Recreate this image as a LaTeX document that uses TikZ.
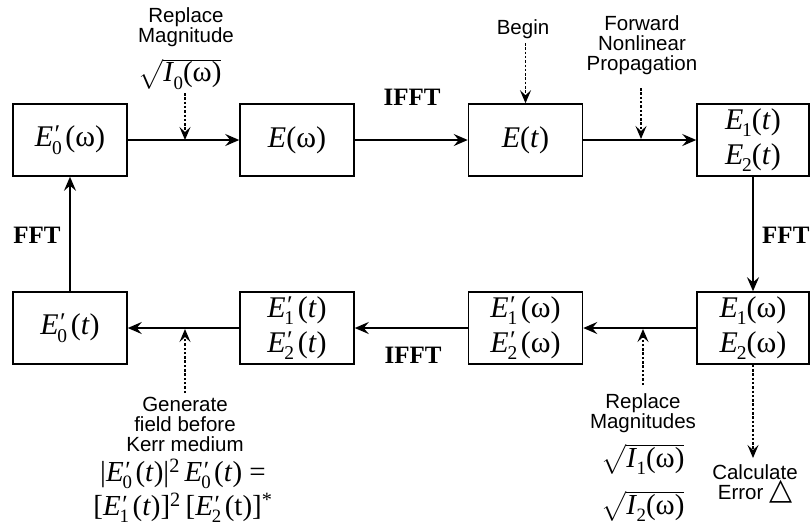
\documentclass[tikz,border=0pt]{standalone}
\usepackage{exscale}
\usepackage{fontspec}
\setmainfont{Liberation Serif}
\newfontfamily\lsans{Liberation Sans}
\newfontfamily\dejavu{DejaVu Sans}
\usetikzlibrary{arrows.meta}
\newcommand{\Ei}[1]{\textit{E}\kern-0.04em\raisebox{-0.25em}{\scalebox{0.65}{#1}}}
\newcommand{\Ii}[1]{\textit{I}\kern-0.02em\raisebox{-0.25em}{\scalebox{0.65}{#1}}}
\newcommand{\Ep}[1]{\textit{E}\makebox[0pt][l]{\kern0.0em\raisebox{0.12em}{\scalebox{0.85}{\textit{′}}}}\kern-0.04em\raisebox{-0.25em}{\scalebox{0.65}{#1}}\kern0.12em}
\tikzset{
  box/.style={draw, line width=1.5pt, minimum width=114pt, minimum height=72pt, inner sep=0pt, align=center, font=\fontsize{30}{35}\selectfont},
  arr/.style={line width=1.8pt, -{Stealth[length=14pt,width=12pt,inset=5pt]}},
  darr/.style={line width=1.4pt, dash pattern=on 2.5pt off 1.8pt, -{Stealth[length=13pt,width=11pt,inset=5pt]}},
  lbl/.style={inner sep=0pt, align=center, font=\lsans\fontsize{20.5}{20}\selectfont},
  fft/.style={inner sep=0pt, font=\bfseries\fontsize{25}{28}\selectfont},
  mth/.style={inner sep=0pt, align=center, font=\fontsize{29}{34}\selectfont}
}
\begin{document}
\begin{tikzpicture}[x=1pt,y=-1pt]
\useasboundingbox (0,0) rectangle (810,531);
% boxes
\node[box] (b1) at (70,140) {\Ep{0}(ω)};
\node[box] (b2) at (297,140) {\textit{E}(ω)};
\node[box] (b3) at (525.5,140) {\textit{E}(\textit{t})};
\node[box, minimum width=112pt] (b4) at (753,140) {\Ei{1}(\textit{t})\\\Ei{2}(\textit{t})};
\node[box] (c1) at (70,328) {\Ep{0}(\textit{t})};
\node[box] (c2) at (297,328) {\Ep{1}(\textit{t})\\\Ep{2}(\textit{t})};
\node[box] (c3) at (525.5,328) {\Ep{1}(ω)\\\Ep{2}(ω)};
\node[box, minimum width=112pt] (c4) at (753,328) {\Ei{1}(ω)\\\Ei{2}(ω)};
% main connectors
\draw[arr] (b1) -- (b2);
\draw[arr] (b2) -- (b3);
\draw[arr] (b3) -- (b4);
\draw[arr] (b4) -- (c4);
\draw[arr] (c4) -- (c3);
\draw[arr] (c3) -- (c2);
\draw[arr] (c2) -- (c1);
\draw[arr] (c1) -- (b1);
% transform labels
\node[fft] (ifft1) at (412,97) {IFFT};
\node[fft] (ifft2) at (413,355) {IFFT};
\node[fft] (fft1) at (37,235) {FFT};
\node[fft, anchor=west] (fft2) at (762,235) {FFT};
% top annotations
\node[lbl] (rm) at (186,27) {Replace\\Magnitude};
\node[mth] (sq0) at (180,74) {$\sqrt{\hbox{\Ii{0}(ω)}}$};
\coordinate (t1) at (185,140);
\coordinate (s1) at (185,93);
\draw[darr] (s1) -- (t1);
\node[lbl] (begin) at (523,29) {Begin};
\coordinate (s2) at (525.5,43);
\draw[darr] (s2) -- (b3.north);
\node[lbl] (fnp) at (642,45) {Forward\\Nonlinear\\Propagation};
\coordinate (s3) at (641,88);
\coordinate (t3) at (641,139);
\draw[darr] (s3) -- (t3);
% bottom annotations
\node[lbl] (gen) at (185,424) {Generate\\field before\\Kerr medium};
\node[mth] (form) at (183,491) {|\Ep{0}(\textit{t})|\textsuperscript{2}\,\Ep{0}(\textit{t}) =\\{}[\Ep{1}(\textit{t})]\textsuperscript{2}\,[\Ep{2}(t)]\textsuperscript{*}};
\coordinate (s4) at (185,393);
\coordinate (t4) at (185,329);
\draw[darr] (s4) -- (t4);
\node[lbl] (rms) at (643,413) {Replace\\Magnitudes};
\node[mth] (sq1) at (643,459) {$\sqrt{\hbox{\Ii{1}(ω)}}$};
\node[mth] (sq2) at (643,506) {$\sqrt{\hbox{\Ii{2}(ω)}}$};
\coordinate (s5) at (643,385);
\coordinate (t5) at (643,329);
\draw[darr] (s5) -- (t5);
\node[lbl] (calc) at (755,484) {Calculate\\Error {\dejavu\fontsize{30}{20}\selectfont △}};
\coordinate (t6) at (753,458);
\draw[darr] (c4.south) -- (t6);
\end{tikzpicture}
\end{document}
